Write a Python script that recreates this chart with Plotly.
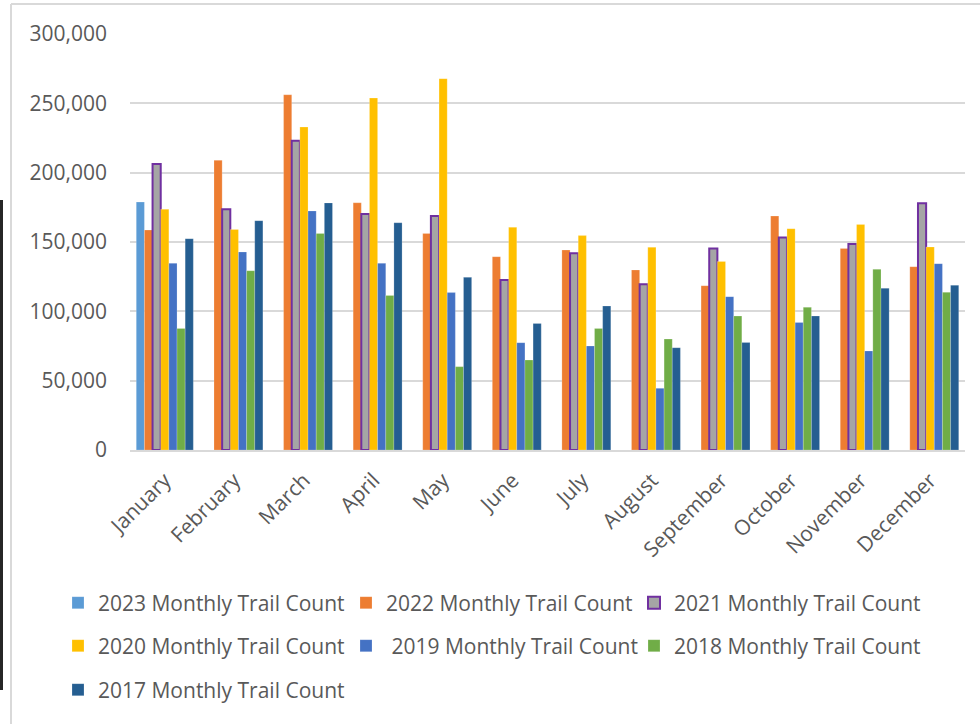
import plotly.graph_objects as go

months = ["January", "February", "March", "April", "May", "June", "July",
          "August", "September", "October", "November", "December"]

y2023 = [178800, None, None, None, None, None, None, None, None, None, None, None]
y2022 = [158600, 208900, 256200, 178300, 156200, 139400, 144200, 129800, 118500, 168700, 145400, 132200]
y2021 = [206200, 173600, 223100, 170200, 168700, 122600, 141800, 119500, 145400, 153300, 148600, 177900]
y2020 = [173600, 159100, 232900, 253800, 267800, 160600, 154600, 146200, 136000, 159600, 162700, 146400]
y2019 = [134600, 142800, 172400, 134600, 113500, 77400, 75000, 44500, 110600, 92000, 71400, 134400]
y2018 = [87700, 129300, 156200, 111500, 60100, 64900, 87700, 80000, 96600, 102900, 130300, 113700]
y2017 = [152400, 165400, 178200, 163900, 124500, 91300, 103800, 73800, 77600, 96600, 116600, 118800]

series = [
    ("2023 Monthly Trail Count", y2023, "#5B9BD5", None, "legend"),
    ("2022 Monthly Trail Count", y2022, "#ED7D31", None, "legend"),
    ("2021 Monthly Trail Count", y2021, "#A5A5A5", "#7030A0", "legend"),
    ("2020 Monthly Trail Count", y2020, "#FFC000", None, "legend2"),
    (" 2019 Monthly Trail Count", y2019, "#4472C4", None, "legend2"),
    ("2018 Monthly Trail Count", y2018, "#70AD47", None, "legend2"),
    ("2017 Monthly Trail Count", y2017, "#255E91", None, "legend3"),
]

W, H = 980, 724
ML, MR, MT, MB = 130, 15, 34, 274
PW, PH = W - ML - MR, H - MT - MB


def px2x(px):
    return (px - ML) / PW


def py2y(py):
    return (H - MB - py) / PH


fig = go.Figure()
for name, vals, color, outline, leg in series:
    fig.add_trace(go.Bar(
        x=months, y=vals, name=name, legend=leg,
        marker=dict(color=color,
                    line=dict(color=outline if outline else "rgba(255,255,255,0.4)",
                              width=2 if outline else 0.5)),
    ))

font_family = "Open Sans, Segoe UI, sans-serif"
txt_col = "#595959"

legend_common = dict(orientation="h", xanchor="left", yanchor="middle",
                     font=dict(family=font_family, size=21, color=txt_col),
                     entrywidth=243, entrywidthmode="pixels",
                     bgcolor="rgba(0,0,0,0)", itemwidth=30, traceorder="normal")

fig.update_layout(
    width=W, height=H,
    margin=dict(l=ML, r=MR, t=MT, b=MB, pad=0),
    paper_bgcolor="white", plot_bgcolor="white",
    barmode="group", bargap=0.18, bargroupgap=0,
    font=dict(family=font_family, color=txt_col),
    legend=dict(x=px2x(58), y=py2y(603), **legend_common),
    legend2=dict(x=px2x(58), y=py2y(646), **legend_common),
    legend3=dict(x=px2x(58), y=py2y(690), **legend_common),
    xaxis=dict(tickangle=-45, tickfont=dict(size=21, color=txt_col, family=font_family),
               showline=True, linecolor="#D9D9D9", linewidth=1.5, ticks="",
               showgrid=False, ticklabelstandoff=8),
    yaxis=dict(range=[0, 300000], dtick=50000, tickformat=",",
               tickfont=dict(size=21, color=txt_col, family=font_family),
               showgrid=True, gridcolor="#D9D9D9", gridwidth=1.5,
               zeroline=False, ticks="", ticklabelstandoff=22, showline=False),
    shapes=[
        dict(type="line", xref="paper", yref="paper", x0=px2x(11), x1=px2x(980),
             y0=py2y(4), y1=py2y(4), line=dict(color="#D9D9D9", width=2)),
        dict(type="line", xref="paper", yref="paper", x0=px2x(11), x1=px2x(11),
             y0=py2y(4), y1=py2y(724), line=dict(color="#D9D9D9", width=2)),
        dict(type="rect", xref="paper", yref="paper", x0=px2x(0), x1=px2x(3),
             y0=py2y(200), y1=py2y(690), fillcolor="#262626", line=dict(width=0)),
    ],
)

fig.write_html("out.html", config={"displayModeBar": False},
               post_script="document.body.style.margin='0';document.body.style.overflow='hidden';")
